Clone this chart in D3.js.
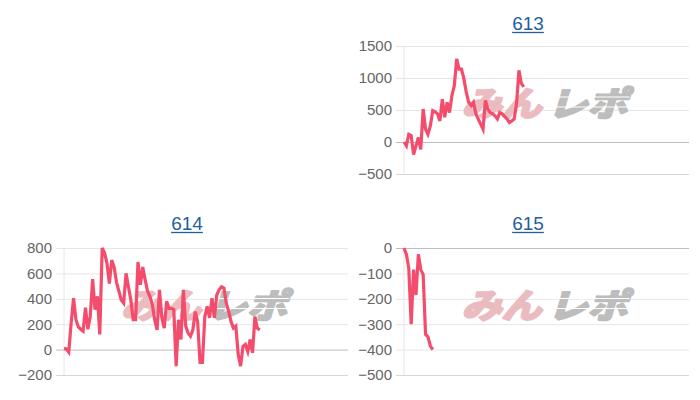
<!DOCTYPE html>
<html>
<head>
<meta charset="utf-8">
<script src="https://cdn.jsdelivr.net/npm/d3@7"></script>
<style>
  body { margin: 0; background: #fff; }
  svg { display: block; }
</style>
</head>
<body>
<div id="chart"></div>
<script>
// titles of the three small charts
const titles = ['613', '614', '615'];

// y axis tick values
const ticks613 = [-500, 0, 500, 1000, 1500];
const ticks614 = [-200, 0, 200, 400, 600, 800];
const ticks615 = [-500, -400, -300, -200, -100, 0];

// series values, one per step
const values613 = [0, -60, 120, 100, -195, -60, 70, -115, 515, 200,
  120, 250, 490, 470, 440, 330, 670, 385, 620, 460,
  725, 880, 1300, 1140, 1140, 990, 780, 620, 570, 620,
  440, 360, 280, 200, 650, 515, 460, 440, 410, 360,
  460, 440, 400, 360, 305, 330, 360, 600, 1120, 915, 860];
const values614 = [10, 5, -20, 210, 405, 235, 178, 160, 145, 330,
  160, 260, 555, 315, 420, 120, 800, 760, 680, 520,
  705, 650, 530, 460, 390, 365, 600, 495, 390, 235,
  235, 690, 510, 650, 550, 460, 420, 355, 235, 155,
  470, 250, 170, 380, 325, 325, 315, -130, 235, 80,
  470, 185, 130, 105, 155, 300, 220, -100, -100, 260,
  340, 250, 405, 250, 430, 470, 495, 485, 365, 300,
  220, 170, 185, -40, -130, 25, 40, -15, 80, -25,
  260, 170, 155];
const values615 = [0, -25, -80, -300, -85, -185, -25, -85, -105, -340,
  -350, -385, -400];

// number of x slots shared by all charts
const slotCount = 120;

const width = 700, height = 400;
const lineColor = '#f44c6c';

const svg = d3.select('#chart')
  .append('svg')
  .attr('width', width)
  .attr('height', height);

const panels = [
  {title: titles[0], values: values613, ticks: ticks613, left: 404, right: 689, top: 46, bottom: 174, titleX: 528, titleY: 30},
  {title: titles[1], values: values614, ticks: ticks614, left: 64, right: 348, top: 248, bottom: 375, titleX: 187, titleY: 230},
  {title: titles[2], values: values615, ticks: ticks615, left: 404, right: 689, top: 248, bottom: 375, titleX: 528, titleY: 230}
];

panels.forEach(p => {
  const g = svg.append('g');

  const x = d3.scaleLinear()
    .domain([0, slotCount - 1])
    .range([p.left, p.right]);

  const y = d3.scaleLinear()
    .domain(d3.extent(p.ticks))
    .range([p.bottom, p.top]);

  // title, underlined like a link
  const title = g.append('text')
    .attr('x', p.titleX)
    .attr('y', p.titleY)
    .attr('text-anchor', 'middle')
    .style('font-family', '"Liberation Sans", Arial, sans-serif')
    .style('font-size', '19px')
    .style('fill', '#1f5f9c')
    .text(p.title);
  const tw = title.node().getComputedTextLength();
  g.append('line')
    .attr('x1', p.titleX - tw / 2)
    .attr('x2', p.titleX + tw / 2)
    .attr('y1', p.titleY + 2.5)
    .attr('y2', p.titleY + 2.5)
    .style('stroke', '#1f5f9c')
    .style('stroke-width', 1.3);

  // y axis with grid lines
  const axis = d3.axisLeft(y)
    .tickValues(p.ticks)
    .tickSize(-(p.right - p.left) - 8)
    .tickPadding(4)
    .tickFormat(d3.format('d'));

  const ag = g.append('g')
    .attr('transform', 'translate(' + (p.left - 8) + ',0)')
    .call(axis);
  ag.select('.domain').remove();
  ag.selectAll('.tick line')
    .style('stroke', (d, i) => d === 0 ? '#bdbdbd' : (i === 0 ? '#d6d6d6' : '#e6e6e6'))
    .style('stroke-width', 1);
  ag.selectAll('.tick text')
    .style('font-family', '"Liberation Sans", Arial, sans-serif')
    .style('font-size', '15px')
    .style('fill', '#666');

  // vertical axis line
  g.append('line')
    .attr('x1', p.left).attr('x2', p.left)
    .attr('y1', p.top).attr('y2', p.bottom)
    .style('stroke', '#e6e6e6');

  // watermark
  const cx = (p.left + p.right) / 2 - 1;
  const cy = (p.top + p.bottom) / 2;
  const wm = g.append('g')
    .style('font-family', '"Noto Sans CJK JP", sans-serif')
    .style('font-weight', 'bold')
    .style('font-style', 'italic')
    .style('font-size', '34px')
    .style('stroke-width', 2.5)
    .style('stroke-linejoin', 'round');
  wm.append('text')
    .attr('x', cx - 84)
    .attr('y', cy + 6)
    .attr('textLength', 80)
    .attr('lengthAdjust', 'spacingAndGlyphs')
    .style('fill', '#ebbcbf')
    .style('stroke', '#ebbcbf')
    .text('みん');
  wm.append('text')
    .attr('x', cx + 2)
    .attr('y', cy + 6)
    .attr('textLength', 80)
    .attr('lengthAdjust', 'spacingAndGlyphs')
    .style('fill', '#bdbdbd')
    .style('stroke', '#bdbdbd')
    .text('レポ');
  // speed stripes through the gray part
  [-13, -3].forEach(dy => {
    wm.append('line')
      .attr('x1', cx + 4).attr('x2', cx + 84)
      .attr('y1', cy + dy).attr('y2', cy + dy)
      .style('stroke', '#fff')
      .style('stroke-width', 1);
  });

  // series line
  const line = d3.line()
    .x((d, i) => x(i))
    .y(d => y(d));

  g.append('path')
    .datum(p.values)
    .attr('d', line)
    .style('fill', 'none')
    .style('stroke', lineColor)
    .style('stroke-width', 3.2);
});
</script>
</body>
</html>
